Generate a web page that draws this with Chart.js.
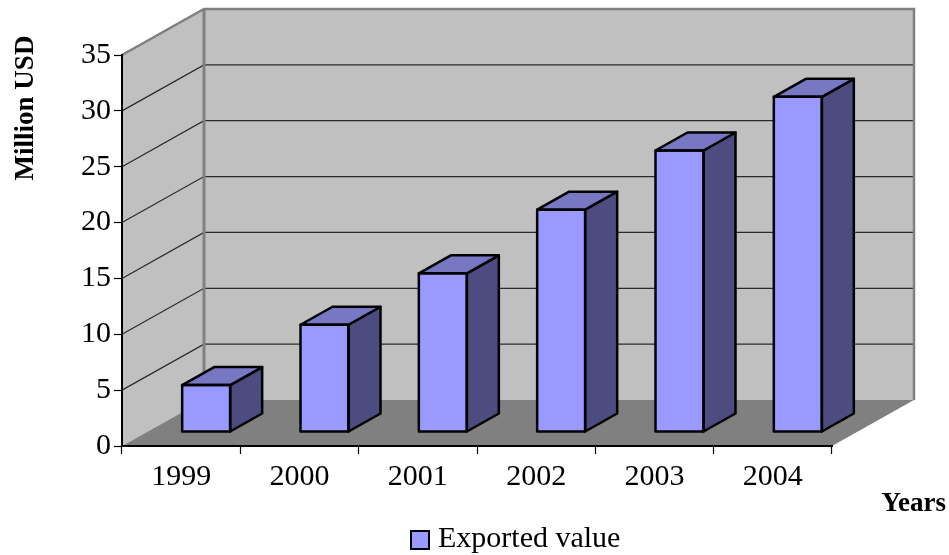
<!DOCTYPE html>
<html>
<head>
<meta charset="utf-8">
<title>Exported value, 1999–2004</title>
<script src="https://cdn.jsdelivr.net/npm/chart.js@4.4.1/dist/chart.umd.min.js"></script>
<style>
  html, body { margin: 0; padding: 0; background: #ffffff; }
  #wrap { width: 949px; height: 555px; }
</style>
</head>
<body>
<div id="wrap"><canvas id="chart" width="949" height="555"></canvas></div>
<script>
// ---- data ----
const categories = ['1999', '2000', '2001', '2002', '2003', '2004'];
const exportedValues = [4.2, 9.6, 14.2, 19.9, 25.2, 30.0];
const seriesLabel = 'Exported value';
const yMin = 0;
const yMax = 35;
const yStep = 5;
const yTitle = 'Million USD';
const xTitle = 'Years';

// ---- look ----
const FONT = "'Liberation Serif', 'Times New Roman', serif";
const WALL = '#c0c0c0';
const WALL_EDGE = '#808080';
const FLOOR = '#808080';
const FRONT = '#9999ff';
const TOP = '#7777c4';
const SIDE = '#4c4c80';

// oblique depth of the plot box, and where the bars sit inside it
const DEPTH_DX = 82, DEPTH_DY = 46;
const BAR_OFF_DX = 25, BAR_OFF_DY = 14;
const BAR_DEPTH_DX = 32, BAR_DEPTH_DY = 18;

const threeD = {
  id: 'threeD',
  beforeDraw(chart) {
    const { ctx, chartArea: a, scales: { y } } = chart;
    const L = a.left, R = a.right, T = a.top, B = a.bottom;
    ctx.save();
    // left wall
    ctx.fillStyle = WALL;
    ctx.beginPath();
    ctx.moveTo(L, T); ctx.lineTo(L + DEPTH_DX, T - DEPTH_DY);
    ctx.lineTo(L + DEPTH_DX, B - DEPTH_DY); ctx.lineTo(L, B);
    ctx.closePath(); ctx.fill();
    // back wall
    ctx.fillRect(L + DEPTH_DX, T - DEPTH_DY, R - L, B - T);
    // floor
    ctx.fillStyle = FLOOR;
    ctx.beginPath();
    ctx.moveTo(L, B); ctx.lineTo(R, B);
    ctx.lineTo(R + DEPTH_DX, B - DEPTH_DY); ctx.lineTo(L + DEPTH_DX, B - DEPTH_DY);
    ctx.closePath(); ctx.fill();
    // gridlines on both walls
    ctx.strokeStyle = '#2a2a2a';
    ctx.lineWidth = 1.2;
    for (let v = yMin + yStep; v < yMax; v += yStep) {
      const py = y.getPixelForValue(v);
      ctx.beginPath();
      ctx.moveTo(L, py);
      ctx.lineTo(L + DEPTH_DX, py - DEPTH_DY);
      ctx.lineTo(R + DEPTH_DX, py - DEPTH_DY);
      ctx.stroke();
    }
    // wall edges
    ctx.strokeStyle = WALL_EDGE;
    ctx.lineWidth = 2.5;
    ctx.lineJoin = 'miter';
    ctx.beginPath();
    ctx.moveTo(L, T); ctx.lineTo(L + DEPTH_DX, T - DEPTH_DY);
    ctx.lineTo(R + DEPTH_DX, T - DEPTH_DY); ctx.lineTo(R + DEPTH_DX, B - DEPTH_DY);
    ctx.stroke();
    ctx.lineWidth = 3;
    ctx.beginPath();
    ctx.moveTo(L + DEPTH_DX, T - DEPTH_DY); ctx.lineTo(L + DEPTH_DX, B - DEPTH_DY);
    ctx.stroke();
    ctx.restore();
  },
  beforeDatasetsDraw(chart) {
    chart.ctx.save();
    chart.ctx.translate(BAR_OFF_DX, -BAR_OFF_DY);
  },
  afterDatasetsDraw(chart) {
    const ctx = chart.ctx;
    const meta = chart.getDatasetMeta(0);
    ctx.lineWidth = 2.5;
    ctx.lineJoin = 'round';
    ctx.strokeStyle = '#000000';
    meta.data.forEach((bar) => {
      const { x, y, base, width } = bar.getProps(['x', 'y', 'base', 'width'], true);
      const l = x - width / 2, r = x + width / 2;
      // right side
      ctx.fillStyle = SIDE;
      ctx.beginPath();
      ctx.moveTo(r, y); ctx.lineTo(r + BAR_DEPTH_DX, y - BAR_DEPTH_DY);
      ctx.lineTo(r + BAR_DEPTH_DX, base - BAR_DEPTH_DY); ctx.lineTo(r, base);
      ctx.closePath(); ctx.fill(); ctx.stroke();
      // top
      ctx.fillStyle = TOP;
      ctx.beginPath();
      ctx.moveTo(l, y); ctx.lineTo(l + BAR_DEPTH_DX, y - BAR_DEPTH_DY);
      ctx.lineTo(r + BAR_DEPTH_DX, y - BAR_DEPTH_DY); ctx.lineTo(r, y);
      ctx.closePath(); ctx.fill(); ctx.stroke();
      // front outline
      ctx.strokeRect(l, y, width, base - y);
    });
    ctx.restore();
  },
  afterDraw(chart) {
    const ctx = chart.ctx;
    ctx.save();
    ctx.fillStyle = '#000000';
    // y-axis title
    ctx.font = 'bold 27px ' + FONT;
    ctx.textAlign = 'center';
    ctx.textBaseline = 'alphabetic';
    ctx.save();
    ctx.translate(33, 108);
    ctx.rotate(-Math.PI / 2);
    ctx.fillText(yTitle, 0, 0);
    ctx.restore();
    // x-axis title
    ctx.textAlign = 'right';
    ctx.fillText(xTitle, 946, 511);
    // legend
    ctx.fillStyle = FRONT;
    ctx.fillRect(411, 531, 18, 18);
    ctx.strokeStyle = '#000000';
    ctx.lineWidth = 2;
    ctx.strokeRect(411, 531, 18, 18);
    ctx.fillStyle = '#000000';
    ctx.font = '30px ' + FONT;
    ctx.textAlign = 'left';
    ctx.fillText(seriesLabel, 438, 547);
    ctx.restore();
  }
};

new Chart(document.getElementById('chart'), {
  type: 'bar',
  data: {
    labels: categories,
    datasets: [{
      label: seriesLabel,
      data: exportedValues,
      backgroundColor: FRONT,
      borderWidth: 0,
      barThickness: 48,
      clip: false
    }]
  },
  options: {
    responsive: false,
    animation: false,
    events: [],
    layout: { padding: { left: 0, right: 117, top: 55, bottom: 0 } },
    plugins: { legend: { display: false }, tooltip: { enabled: false } },
    scales: {
      x: {
        offset: true,
        grid: { display: true, drawOnChartArea: false, drawTicks: true, tickLength: 8, tickColor: '#000', tickWidth: 1.2, offset: true },
        border: { display: true, color: '#000', width: 2 },
        ticks: { color: '#000', font: { family: FONT, size: 30 }, padding: 5, maxRotation: 0 },
        afterFit(scale) { scale.height = 109; }
      },
      y: {
        min: yMin,
        max: yMax,
        grid: { display: true, drawOnChartArea: false, drawTicks: true, tickLength: 8, tickColor: '#000', tickWidth: 1.2 },
        border: { display: true, color: '#000', width: 2 },
        ticks: { stepSize: yStep, color: '#000', font: { family: FONT, size: 30 }, padding: 3 },
        afterFit(scale) { scale.width = 122; }
      }
    }
  },
  plugins: [threeD]
});
</script>
</body>
</html>
